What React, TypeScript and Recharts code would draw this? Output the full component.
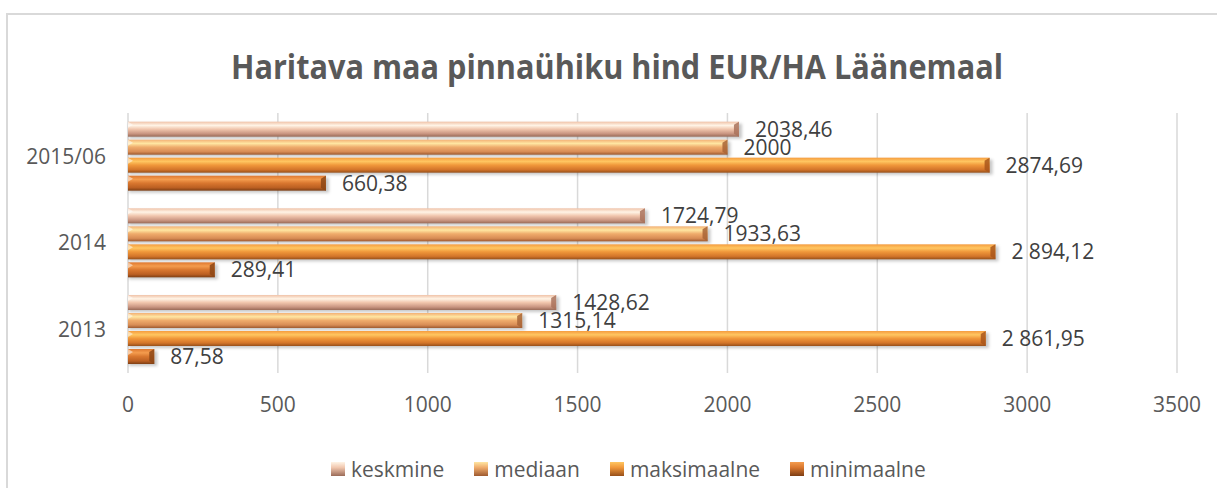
import { BarChart, Bar, XAxis, YAxis, CartesianGrid, LabelList } from 'recharts'

const categories = ['2015/06', '2014', '2013']

const keskmine = [2038.46, 1724.79, 1428.62]
const mediaan = [2000, 1933.63, 1315.14]
const maksimaalne = [2874.69, 2894.12, 2861.95]
const minimaalne = [660.38, 289.41, 87.58]

// labels as printed in the source (thousand separators differ)
const keskmineLabels = ['2038,46', '1724,79', '1428,62']
const mediaanLabels = ['2000', '1933,63', '1315,14']
const maksimaalneLabels = ['2874,69', '2 894,12', '2 861,95']
const minimaalneLabels = ['660,38', '289,41', '87,58']

const xTicks = [0, 500, 1000, 1500, 2000, 2500, 3000, 3500]

const FONT = '"Open Sans", sans-serif'

const SERIES = [
  { key: 'keskmine', name: 'keskmine', stops: ['#f0c2a8', '#fff4e6', '#f1c6ad', '#c99581', '#9a6b58'], edge: '#a9725c' },
  { key: 'mediaan', name: 'mediaan', stops: ['#f3b074', '#ffe6a2', '#efab6b', '#d88c55', '#9e5a30'], edge: '#a86436' },
  { key: 'maksimaalne', name: 'maksimaalne', stops: ['#f59c3f', '#ffc661', '#f0973a', '#d3752a', '#97501a'], edge: '#a9561b' },
  { key: 'minimaalne', name: 'minimaalne', stops: ['#de7830', '#f49c4e', '#d9772f', '#bb5f22', '#7d3e14'], edge: '#8c4716' },
]

const chartData = categories.map((cat, i) => ({
  category: cat,
  keskmine: keskmine[i],
  mediaan: mediaan[i],
  maksimaalne: maksimaalne[i],
  minimaalne: minimaalne[i],
  keskmineLabel: keskmineLabels[i],
  mediaanLabel: mediaanLabels[i],
  maksimaalneLabel: maksimaalneLabels[i],
  minimaalneLabel: minimaalneLabels[i],
}))

const makeShape = (key: string, edge: string) => (props: any) => {
  const { x, y, width, height } = props
  if (!width || width <= 0) return null
  const b = Math.min(5, width / 2)
  return (
    <g>
      <rect x={x + 1} y={y + 2} width={width + 2} height={height} fill="rgba(0,0,0,0.22)" filter="url(#barShadow)" />
      <rect x={x} y={y} width={width} height={height} fill={`url(#grad-${key})`} />
      <polygon
        points={`${x + width - b},${y + 3} ${x + width},${y} ${x + width},${y + height} ${x + width - b},${y + height - 3}`}
        fill={edge}
        opacity={0.85}
      />
      <polygon points={`${x},${y} ${x + 5},${y + 3} ${x},${y + 6}`} fill="#ffffff" opacity={0.5} />
    </g>
  )
}

function LegendRow() {
  return (
    <div
      style={{
        position: 'absolute',
        left: 331,
        top: 455,
        display: 'flex',
        alignItems: 'center',
        fontFamily: FONT,
        fontSize: 21,
        color: '#595959',
      }}
    >
      {SERIES.map((s) => (
        <div key={s.key} style={{ display: 'flex', alignItems: 'center', marginRight: 30 }}>
          <div
            style={{
              width: 14,
              height: 14,
              marginRight: 6,
              background: `linear-gradient(180deg, ${s.stops[1]} 0%, ${s.stops[2]} 40%, ${s.stops[4]} 100%)`,
            }}
          />
          <span>{s.name}</span>
        </div>
      ))}
    </div>
  )
}

export default function App() {
  return (
    <div style={{ position: 'absolute', left: 0, top: 0, width: 1217, height: 488, background: '#fff', overflow: 'hidden' }}>
      <div
        style={{
          position: 'absolute',
          left: 6,
          top: 13,
          width: 1217,
          height: 500,
          borderLeft: '2px solid #d9d9d9',
          borderTop: '2px solid #d9d9d9',
        }}
      />
      <svg style={{ position: 'absolute', left: 0, top: 0 }} width={1217} height={100}>
        <text
          x={617}
          y={79}
          textAnchor="middle"
          textLength={772}
          lengthAdjust="spacingAndGlyphs"
          fontFamily={FONT}
          fontWeight={700}
          fontSize={34}
          fill="#595959"
        >
          Haritava maa pinnaühiku hind EUR/HA Läänemaal
        </text>
      </svg>
      <div style={{ position: 'absolute', left: 0, top: 0 }}>
        <BarChart
          width={1217}
          height={488}
          data={chartData}
          layout="vertical"
          margin={{ top: 113, right: 40, left: 0, bottom: 85 }}
          barCategoryGap="10%"
          barGap={3}
        >
          <defs>
            {SERIES.map((s) => (
              <linearGradient key={s.key} id={`grad-${s.key}`} x1="0" y1="0" x2="0" y2="1">
                <stop offset="0%" stopColor={s.stops[0]} />
                <stop offset="25%" stopColor={s.stops[1]} />
                <stop offset="50%" stopColor={s.stops[2]} />
                <stop offset="80%" stopColor={s.stops[3]} />
                <stop offset="100%" stopColor={s.stops[4]} />
              </linearGradient>
            ))}
            <filter id="barShadow" x="-5%" y="-50%" width="110%" height="200%">
              <feGaussianBlur stdDeviation="1.5" />
            </filter>
          </defs>
          <CartesianGrid horizontal={false} stroke="#d9d9d9" strokeWidth={1.5} />
          <XAxis
            type="number"
            domain={[0, 3500]}
            ticks={xTicks}
            axisLine={false}
            tickLine={false}
            tickSize={0}
            tickMargin={24}
            height={30}
            tick={{ fill: '#595959', fontSize: 21, fontFamily: FONT }}
          />
          <YAxis
            type="category"
            dataKey="category"
            width={128}
            axisLine={false}
            tickLine={false}
            tickSize={0}
            tickMargin={22}
            tick={{ fill: '#595959', fontSize: 21, fontFamily: FONT }}
          />
          {SERIES.map((s) => (
            <Bar key={s.key} dataKey={s.key} name={s.name} shape={makeShape(s.key, s.edge)} isAnimationActive={false}>
              <LabelList
                dataKey={`${s.key}Label`}
                position="right"
                offset={16}
                fill="#404040"
                fontSize={21}
                fontFamily={FONT}
              />
            </Bar>
          ))}
        </BarChart>
      </div>
      <LegendRow />
    </div>
  )
}
